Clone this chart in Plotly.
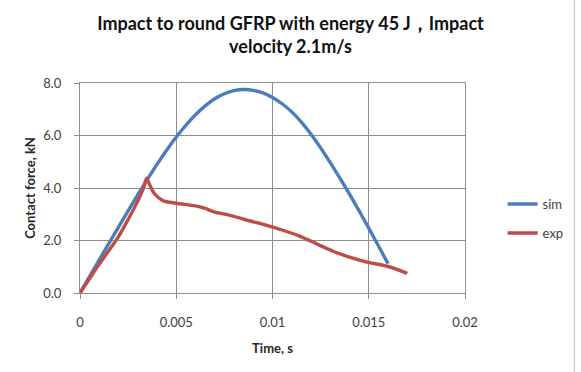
import plotly.graph_objects as go

# Simulation curve (time in s, contact force in kN)
sim_t = [0, 0.0005, 0.001, 0.0015, 0.002, 0.0025, 0.003, 0.0035, 0.004, 0.0045, 0.005,
         0.0055, 0.006, 0.0065, 0.007, 0.0075, 0.008, 0.0085, 0.009, 0.0095, 0.010,
         0.0105, 0.011, 0.0115, 0.012, 0.0125, 0.013, 0.0135, 0.014, 0.0145, 0.015,
         0.0155, 0.016]
sim_f = [0, 0.63, 1.26, 1.89, 2.51, 3.13, 3.74, 4.33, 4.9, 5.44, 5.94,
         6.39, 6.79, 7.13, 7.4, 7.59, 7.71, 7.75, 7.72, 7.62, 7.45,
         7.21, 6.9, 6.51, 6.05, 5.53, 4.97, 4.38, 3.77, 3.13, 2.47,
         1.8, 1.12]

# Experimental curve
exp_t = [0, 0.0005, 0.001, 0.0015, 0.002, 0.0025, 0.003, 0.0033, 0.00346, 0.0036,
         0.00385, 0.0043, 0.005, 0.006, 0.0065, 0.007, 0.0077, 0.0086, 0.00975,
         0.0105, 0.01147, 0.01233, 0.01318, 0.014, 0.0149, 0.01606, 0.017]
exp_f = [0, 0.55, 1.1, 1.62, 2.15, 2.8, 3.5, 4.0, 4.37, 4.15,
         3.8, 3.52, 3.42, 3.32, 3.22, 3.08, 2.98, 2.79, 2.57,
         2.4, 2.15, 1.86, 1.58, 1.37, 1.18, 1.0, 0.75]

x_ticks = [0, 0.005, 0.01, 0.015, 0.02]
x_labels = ["0", "0.005", "0.01", "0.015", "0.02"]
y_ticks = [0, 2, 4, 6, 8]
y_labels = ["0.0", "2.0", "4.0", "6.0", "8.0"]

W, H = 581, 372
L, R, T, B = 80, 112, 83, 79

fig = go.Figure()
fig.add_trace(go.Scatter(x=sim_t, y=sim_f, mode="lines", name="sim",
                         line=dict(color="#4A7EBB", width=3.4, shape="spline", smoothing=0.8),
                         legend="legend"))
fig.add_trace(go.Scatter(x=exp_t, y=exp_f, mode="lines", name="exp",
                         line=dict(color="#BE4B48", width=3.4, shape="spline", smoothing=0.8),
                         legend="legend2"))

grid = "#8E8E8E"
fam = "Lato, Open Sans, sans-serif"
tickfont = dict(family=fam, size=13, color="#404040")
titlefont = dict(family=fam, size=13, color="#262626", weight="bold")
legfont = dict(family=fam, size=13, color="#404040")
pw = W - L - R
ph = H - T - B

fig.update_layout(
    width=W, height=H,
    margin=dict(l=L, r=R, t=T, b=B),
    paper_bgcolor="white", plot_bgcolor="white",
    title=dict(text="Impact to round GFRP with energy 45 J，Impact<br>velocity 2.1m/s",
               x=0.5, xanchor="center", y=1 - 30 / H, yanchor="middle",
               font=dict(family=fam, size=18, color="#111111", weight="bold")),
    xaxis=dict(range=[0, 0.02], tickvals=x_ticks, ticktext=x_labels,
               showgrid=True, gridcolor=grid, gridwidth=1.2,
               showline=True, linecolor=grid, linewidth=1.2, mirror=True,
               ticks="outside", ticklen=5, tickcolor=grid, tickwidth=1.2,
               tickfont=tickfont, zeroline=False, ticklabelstandoff=12,
               title=dict(text="Time, s", font=titlefont, standoff=15)),
    yaxis=dict(range=[0, 8], tickvals=y_ticks, ticktext=y_labels,
               showgrid=True, gridcolor=grid, gridwidth=1.2,
               showline=True, linecolor=grid, linewidth=1.2, mirror=True,
               ticks="outside", ticklen=5, tickcolor=grid, tickwidth=1.2,
               tickfont=tickfont, zeroline=False, ticklabelstandoff=10,
               title=dict(text="Contact force, kN", font=titlefont, standoff=4)),
    legend=dict(x=(507 - L) / pw, xanchor="left", y=(H - B - 204) / ph, yanchor="middle",
                font=legfont, bgcolor="rgba(0,0,0,0)", itemwidth=30),
    legend2=dict(x=(507 - L) / pw, xanchor="left", y=(H - B - 233) / ph, yanchor="middle",
                 font=legfont, bgcolor="rgba(0,0,0,0)", itemwidth=30),
    shapes=[dict(type="line", xref="paper", yref="paper",
                 x0=(579.5 - L) / pw, x1=(579.5 - L) / pw, y0=-B / ph, y1=(H - B) / ph,
                 line=dict(color="#CFCFCF", width=1.5))],
    showlegend=True,
)

fig.write_html("out.html")
